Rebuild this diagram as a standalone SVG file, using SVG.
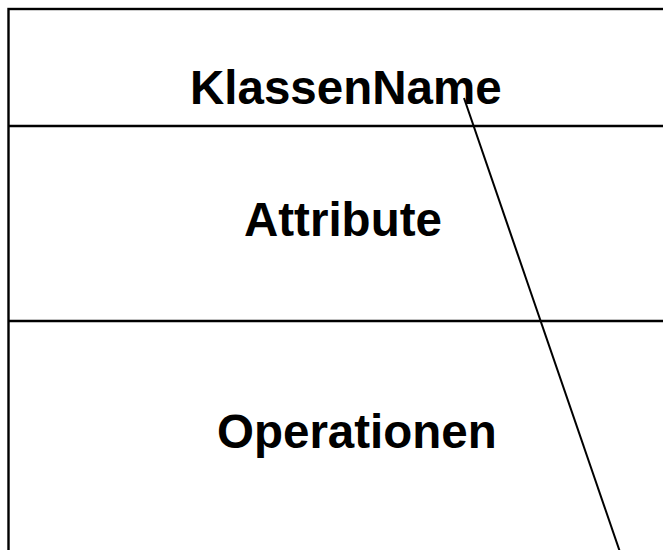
<svg xmlns="http://www.w3.org/2000/svg" width="663" height="550" viewBox="0 0 663 550">
  <style>
    .frame { fill: #fff; stroke: #000; stroke-width: 2.4; }
    .div { stroke: #000; stroke-width: 2.4; }
    .lbl { font-family: "Liberation Sans", Arial, Helvetica, sans-serif; font-weight: bold; font-size: 47.5px; fill: #000; }
    .conn { stroke: #000; stroke-width: 2; fill: none; }
  </style>
  <rect width="663" height="550" fill="#fff"/>
  <!-- class box: the right and bottom edges run past the canvas -->
  <g id="class-box">
    <rect class="frame" x="8.5" y="9" width="680" height="580"/>
  </g>
  <g id="name-compartment">
    <text class="lbl" x="190" y="104">KlassenName</text>
  </g>
  <g id="attribute-compartment">
    <line class="div" x1="8.5" y1="126" x2="663" y2="126"/>
    <text class="lbl" x="244" y="236">Attribute</text>
  </g>
  <g id="operation-compartment">
    <line class="div" x1="8.5" y1="321" x2="663" y2="321"/>
    <text class="lbl" x="217" y="448">Operationen</text>
  </g>
  <g id="connectors">
    <line class="conn" x1="464" y1="98" x2="620" y2="552"/>
  </g>
</svg>
